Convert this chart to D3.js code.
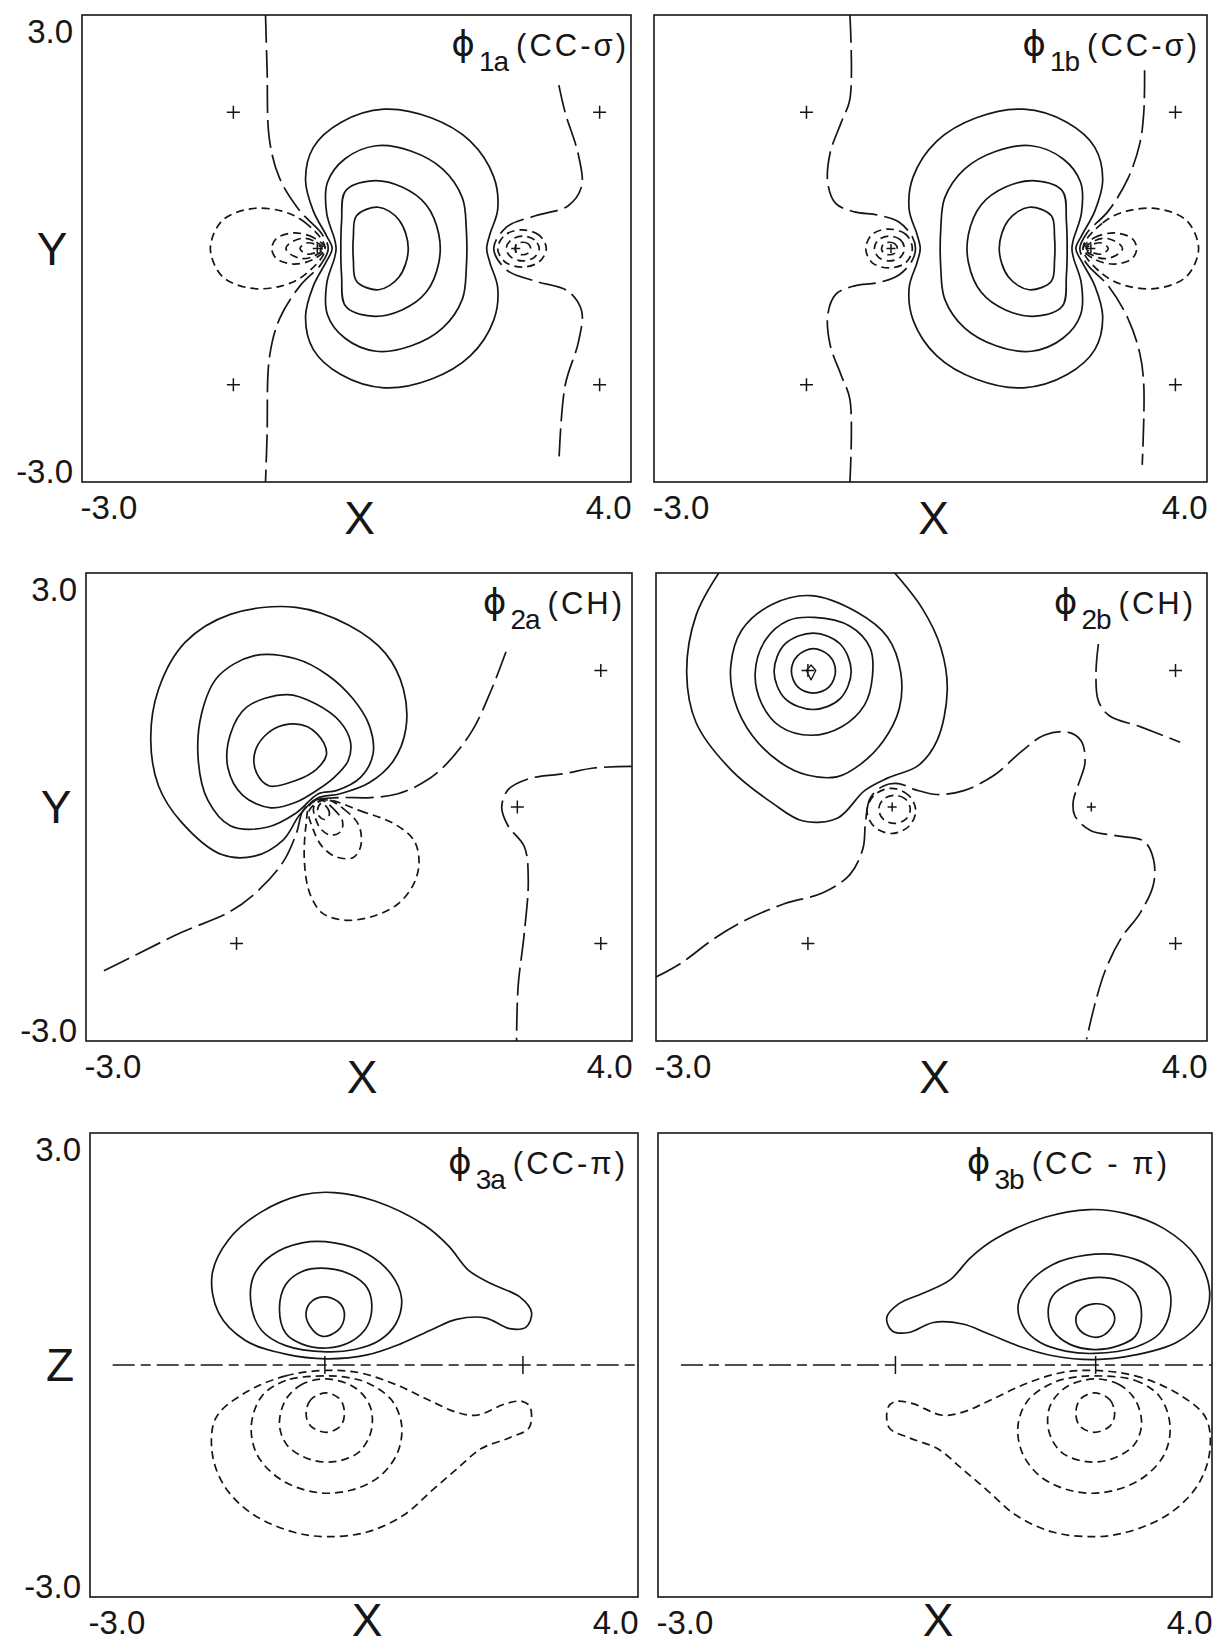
<!DOCTYPE html>
<html>
<head>
<meta charset="utf-8">
<script src="https://cdn.jsdelivr.net/npm/d3@7"></script>
<style>
body { margin: 0; background: #fff; }
svg { display: block; }
text { font-family: "Liberation Sans", Arial, sans-serif; fill: #161616; }
</style>
</head>
<body>
<svg id="chart" width="1223" height="1650"></svg>
<script>
// ---- data (bohr units) ----
var xDomain = [-3, 4];
var yDomain = [-3, 3];
var xTickValues = [-3, 4];
var yTickValues = [3, -3];

// nuclear positions of ethylene in the molecular plane
var atomX = {C1: 0, C2: 2.53, H1: -1.07, H2: -1.07, H3: 3.6, H4: 3.6};
var atomY = {C1: 0, C2: 0, H1: 1.75, H2: -1.75, H3: 1.75, H4: -1.75};

// phi 1a (CC-sigma)
var p1aSolid = [
	[[0.5,0.42],[0.78,0.53],[1.04,0.37],[1.16,0],[1.04,-0.37],[0.78,-0.53],[0.5,-0.42],[0.46,-0.15],[0.46,0.15]],
	[[0.36,0.74],[0.7,0.87],[1.08,0.79],[1.39,0.56],[1.55,0.18],[1.55,-0.18],[1.39,-0.56],[1.08,-0.79],[0.7,-0.87],[0.36,-0.74],[0.31,-0.35],[0.3,0],[0.31,0.35]],
	[[0.75,1.32],[1.2,1.25],[1.6,1.02],[1.85,0.65],[1.9,0.25],[1.9,-0.25],[1.85,-0.65],[1.6,-1.02],[1.2,-1.25],[0.75,-1.32],[0.35,-1.15],[0.13,-0.85],[0.12,-0.45],[0.22,-0.12],[0.24,0],[0.22,0.12],[0.12,0.45],[0.13,0.85],[0.35,1.15]],
	[[0.85,1.79],[1.45,1.68],[1.95,1.38],[2.25,0.92],[2.3,0.5],[2.2,0.18],[2.16,0],[2.2,-0.18],[2.3,-0.5],[2.25,-0.92],[1.95,-1.38],[1.45,-1.68],[0.85,-1.79],[0.3,-1.62],[-0.05,-1.3],[-0.15,-0.88],[-0.05,-0.48],[0.12,-0.16],[0.19,0],[0.12,0.16],[-0.05,0.48],[-0.15,0.88],[-0.05,1.3],[0.3,1.62]]
];
var p1aDashed = [
	[[0.1,0],[-0.15,0.33],[-0.45,0.48],[-0.85,0.51],[-1.2,0.37],[-1.35,0.1],[-1.35,-0.1],[-1.2,-0.37],[-0.85,-0.51],[-0.45,-0.48],[-0.15,-0.33]],
	[[0.1,0],[-0.05,0.14],[-0.3,0.2],[-0.52,0.13],[-0.58,0],[-0.52,-0.13],[-0.3,-0.2],[-0.05,-0.14]],
	[[0.08,0],[-0.05,0.1],[-0.2,0.13],[-0.36,0.06],[-0.4,0],[-0.36,-0.06],[-0.2,-0.13],[-0.05,-0.1]],
	[[0.06,0],[-0.04,0.06],[-0.14,0.07],[-0.22,0],[-0.14,-0.07],[-0.04,-0.06]],
	[[2.92,0],[2.83,0.17],[2.61,0.24],[2.39,0.17],[2.3,0],[2.39,-0.17],[2.61,-0.24],[2.83,-0.17]],
	[[2.83,0],[2.77,0.11],[2.62,0.16],[2.47,0.11],[2.41,0],[2.47,-0.11],[2.62,-0.16],[2.77,-0.11]],
	[[2.72,0],[2.69,0.06],[2.62,0.08],[2.55,0.06],[2.52,0],[2.55,-0.06],[2.62,-0.08],[2.69,-0.06]]
];
var p1aZero = [
	[[-0.66,3.0],[-0.64,2.3],[-0.61,1.4],[-0.48,0.9],[-0.22,0.48],[0.05,0.2],[0.14,0],[0.05,-0.2],[-0.22,-0.48],[-0.48,-0.9],[-0.61,-1.4],[-0.64,-2.4],[-0.66,-3.0]],
	[[3.08,2.1],[3.16,1.75],[3.33,1.2],[3.37,0.8],[3.2,0.55],[2.78,0.42],[2.42,0.28],[2.25,0],[2.42,-0.28],[2.78,-0.42],[3.2,-0.55],[3.37,-0.8],[3.33,-1.2],[3.16,-1.76],[3.08,-2.76]]
];
var p1aMarks = ['H1','H2','H3','H4','C1','C2'];

// phi 1b (CC-sigma)
var p1bSolid = [
	[[2.03,0.42],[1.75,0.53],[1.49,0.37],[1.37,0],[1.49,-0.37],[1.75,-0.53],[2.03,-0.42],[2.07,-0.15],[2.07,0.15]],
	[[2.17,0.74],[1.83,0.87],[1.45,0.79],[1.14,0.56],[0.98,0.18],[0.98,-0.18],[1.14,-0.56],[1.45,-0.79],[1.83,-0.87],[2.17,-0.74],[2.22,-0.35],[2.23,0],[2.22,0.35]],
	[[1.78,1.32],[1.33,1.25],[0.93,1.02],[0.68,0.65],[0.63,0.25],[0.63,-0.25],[0.68,-0.65],[0.93,-1.02],[1.33,-1.25],[1.78,-1.32],[2.18,-1.15],[2.4,-0.85],[2.41,-0.45],[2.31,-0.12],[2.29,0],[2.31,0.12],[2.41,0.45],[2.4,0.85],[2.18,1.15]],
	[[1.68,1.79],[1.08,1.68],[0.58,1.38],[0.28,0.92],[0.23,0.5],[0.33,0.18],[0.37,0],[0.33,-0.18],[0.23,-0.5],[0.28,-0.92],[0.58,-1.38],[1.08,-1.68],[1.68,-1.79],[2.23,-1.62],[2.58,-1.3],[2.68,-0.88],[2.58,-0.48],[2.41,-0.16],[2.34,0],[2.41,0.16],[2.58,0.48],[2.68,0.88],[2.58,1.3],[2.23,1.62]]
];
var p1bDashed = [
	[[2.43,0],[2.68,0.33],[2.98,0.48],[3.38,0.51],[3.73,0.37],[3.88,0.1],[3.88,-0.1],[3.73,-0.37],[3.38,-0.51],[2.98,-0.48],[2.68,-0.33]],
	[[2.43,0],[2.58,0.14],[2.83,0.2],[3.05,0.13],[3.11,0],[3.05,-0.13],[2.83,-0.2],[2.58,-0.14]],
	[[2.45,0],[2.58,0.1],[2.73,0.13],[2.89,0.06],[2.93,0],[2.89,-0.06],[2.73,-0.13],[2.58,-0.1]],
	[[2.47,0],[2.57,0.06],[2.67,0.07],[2.75,0],[2.67,-0.07],[2.57,-0.06]],
	[[0.27,0],[0.19,0.18],[-0.03,0.25],[-0.24,0.18],[-0.32,0],[-0.24,-0.18],[-0.03,-0.25],[0.19,-0.18]],
	[[0.17,0],[0.12,0.11],[-0.02,0.16],[-0.16,0.11],[-0.21,0],[-0.16,-0.11],[-0.02,-0.16],[0.12,-0.11]],
	[[0.08,0],[0.05,0.06],[-0.02,0.08],[-0.09,0.06],[-0.12,0],[-0.09,-0.06],[-0.02,-0.08],[0.05,-0.06]]
];
var p1bZero = [
	[[-0.52,3.0],[-0.52,1.92],[-0.63,1.62],[-0.77,1.23],[-0.8,0.84],[-0.7,0.58],[-0.46,0.47],[-0.17,0.43],[0.1,0.34],[0.27,0.15],[0.31,0],[0.27,-0.15],[0.1,-0.34],[-0.17,-0.44],[-0.46,-0.48],[-0.7,-0.59],[-0.8,-0.85],[-0.77,-1.24],[-0.63,-1.63],[-0.52,-1.94],[-0.52,-3.0]],
	[[3.21,2.29],[3.2,1.75],[3.15,1.35],[3.0,0.9],[2.75,0.48],[2.48,0.2],[2.39,0],[2.48,-0.2],[2.75,-0.48],[3.0,-0.9],[3.15,-1.35],[3.2,-1.76],[3.18,-2.78]]
];
var p1bMarks = ['H1','H2','H3','H4','C1','C2'];

// phi 2a (CH)
var p2aSolid = [
	[[-0.47,1.05],[-0.16,1.03],[0.05,0.82],[0.08,0.66],[-0.05,0.48],[-0.31,0.34],[-0.65,0.27],[-0.81,0.43],[-0.84,0.68],[-0.71,0.91]],
	[[-0.42,1.44],[-0.05,1.32],[0.26,1.09],[0.39,0.84],[0.36,0.59],[0.16,0.36],[0.0,0.24],[-0.31,0.06],[-0.63,-0.01],[-0.99,0.15],[-1.18,0.5],[-1.15,0.93],[-0.94,1.28]],
	[[-0.84,1.94],[-0.31,1.9],[0.1,1.69],[0.42,1.39],[0.63,1.05],[0.68,0.68],[0.52,0.38],[0.21,0.21],[-0.02,0.17],[-0.31,-0.08],[-0.68,-0.26],[-1.15,-0.24],[-1.44,0.09],[-1.56,0.59],[-1.52,1.19],[-1.31,1.67]],
	[[-0.31,2.56],[0.37,2.33],[0.84,1.97],[1.07,1.51],[1.1,1.0],[0.94,0.59],[0.63,0.31],[0.26,0.17],[-0.04,0.11],[-0.26,-0.1],[-0.47,-0.42],[-0.84,-0.63],[-1.26,-0.61],[-1.78,-0.19],[-2.07,0.27],[-2.17,0.87],[-2.07,1.51],[-1.73,2.11],[-1.15,2.47]]
];
var p2aDashed = [
	[[0.1,0.09],[0.52,-0.05],[0.94,-0.21],[1.2,-0.42],[1.27,-0.7],[1.2,-0.99],[0.99,-1.25],[0.65,-1.41],[0.31,-1.45],[0.03,-1.36],[-0.13,-1.11],[-0.2,-0.7],[-0.18,-0.24],[-0.12,0.04]],
	[[0.06,0.1],[0.31,-0.03],[0.5,-0.24],[0.52,-0.51],[0.42,-0.65],[0.21,-0.64],[0.03,-0.51],[-0.09,-0.28],[-0.14,-0.05]],
	[[0.03,0.08],[0.18,-0.03],[0.29,-0.19],[0.26,-0.32],[0.13,-0.36],[0.01,-0.28],[-0.06,-0.14],[-0.08,0.0]],
	[[0.02,0.05],[0.1,-0.02],[0.12,-0.1],[0.06,-0.16],[-0.01,-0.12],[-0.03,-0.03]]
];
var p2aZero = [
	[[-2.77,-2.1],[-2.35,-1.89],[-1.78,-1.61],[-1.15,-1.34],[-0.78,-1.06],[-0.47,-0.7],[-0.3,-0.33],[-0.22,-0.05],[-0.08,0.08],[0.25,0.12],[0.65,0.12],[1.0,0.17],[1.3,0.3],[1.57,0.5],[1.94,0.96],[2.2,1.51],[2.41,2.06]],
	[[4.0,0.52],[3.51,0.5],[3.14,0.43],[2.67,0.36],[2.41,0.22],[2.33,-0.01],[2.41,-0.24],[2.62,-0.51],[2.67,-0.93],[2.62,-1.61],[2.54,-2.3],[2.52,-3.0]]
];
var p2aMarks = ['H2','H3','H4','C2'];

// phi 2b (CH)
var p2bSolid = [
	[[-1.0,2.03],[-0.8,1.94],[-0.72,1.74],[-0.8,1.54],[-1.0,1.46],[-1.2,1.54],[-1.28,1.74],[-1.2,1.94]],
	[[-1.0,2.23],[-0.66,2.09],[-0.52,1.74],[-0.66,1.39],[-1.0,1.25],[-1.36,1.39],[-1.5,1.74],[-1.36,2.09]],
	[[-0.99,2.43],[-0.54,2.32],[-0.28,2.04],[-0.25,1.68],[-0.35,1.31],[-0.64,1.03],[-1.03,0.92],[-1.42,1.03],[-1.66,1.33],[-1.74,1.72],[-1.61,2.14],[-1.32,2.39]],
	[[-1.03,2.71],[-0.45,2.5],[-0.06,2.18],[0.11,1.72],[0.09,1.26],[-0.11,0.85],[-0.4,0.55],[-0.69,0.39],[-1.08,0.41],[-1.42,0.57],[-1.78,0.92],[-2.0,1.36],[-2.05,1.81],[-1.91,2.27],[-1.52,2.6]]
];
var p2bSolidOpen = [
	[[-2.17,3.05],[-2.49,2.46],[-2.61,1.72],[-2.49,1.08],[-2.05,0.48],[-1.52,0.05],[-1.13,-0.18],[-0.69,-0.14],[-0.35,0.21],[-0.06,0.37],[0.33,0.53],[0.57,0.85],[0.7,1.49],[0.62,2.04],[0.38,2.55],[-0.01,3.05]]
];
var p2bDashed = [
	[[0.3,-0.05],[0.21,0.15],[-0.01,0.24],[-0.23,0.15],[-0.32,-0.05],[-0.23,-0.25],[-0.01,-0.34],[0.21,-0.25]],
	[[0.23,-0.03],[0.17,0.1],[0.03,0.15],[-0.11,0.1],[-0.17,-0.03],[-0.11,-0.16],[0.03,-0.21],[0.17,-0.16]]
];
var p2bZero = [
	[[-3.0,-2.18],[-2.68,-2.0],[-2.25,-1.68],[-1.86,-1.45],[-1.37,-1.24],[-0.88,-1.1],[-0.54,-0.87],[-0.37,-0.53],[-0.34,-0.21],[-0.28,0.11],[-0.11,0.27],[0.08,0.3],[0.3,0.22],[0.57,0.16],[0.91,0.21],[1.3,0.41],[1.64,0.71],[1.93,0.92],[2.23,0.96],[2.4,0.85],[2.45,0.57],[2.37,0.3],[2.3,0.07],[2.32,-0.11],[2.52,-0.3],[2.86,-0.37],[3.2,-0.44],[3.32,-0.67],[3.32,-0.99],[3.15,-1.36],[2.91,-1.68],[2.71,-2.09],[2.57,-2.55],[2.47,-2.98]],
	[[2.62,2.09],[2.59,1.72],[2.62,1.36],[2.76,1.17],[3.15,1.03],[3.66,0.83]]
];
var p2bDiamond = [[-1.03,1.82],[-0.97,1.75],[-1.03,1.63],[-1.09,1.75]];
var p2bMarks = ['H1','H2','H3','H4','C1','C2'];

// phi 3a (CC-pi), plane perpendicular to the molecule
var p3aSolid = [
	[[-0.03,0.37],[-0.19,0.5],[-0.24,0.68],[-0.16,0.83],[0.02,0.88],[0.2,0.79],[0.25,0.63],[0.17,0.45]],
	[[0.02,0.22],[-0.29,0.27],[-0.5,0.41],[-0.58,0.72],[-0.5,1.04],[-0.29,1.21],[0.02,1.25],[0.33,1.17],[0.54,1.0],[0.6,0.77],[0.54,0.5],[0.33,0.3]],
	[[0.02,0.17],[-0.5,0.25],[-0.81,0.45],[-0.94,0.77],[-0.91,1.15],[-0.68,1.42],[-0.29,1.58],[0.12,1.58],[0.54,1.44],[0.85,1.17],[0.98,0.86],[0.91,0.54],[0.7,0.32],[0.38,0.2]],
	[[0.02,0.08],[-0.5,0.14],[-1.02,0.32],[-1.36,0.68],[-1.44,1.17],[-1.23,1.62],[-0.81,1.98],[-0.29,2.2],[0.12,2.23],[0.64,2.12],[1.27,1.81],[1.58,1.54],[1.84,1.22],[2.15,1.04],[2.49,0.88],[2.64,0.68],[2.57,0.49],[2.36,0.47],[2.05,0.61],[1.68,0.59],[1.37,0.46],[0.96,0.27],[0.54,0.13]]
];
var p3aDashed = [
	[[0.02,-0.36],[-0.18,-0.45],[-0.24,-0.63],[-0.18,-0.79],[0.02,-0.87],[0.2,-0.79],[0.25,-0.63],[0.2,-0.45]],
	[[0.02,-0.18],[-0.29,-0.25],[-0.5,-0.45],[-0.58,-0.77],[-0.48,-1.04],[-0.19,-1.22],[0.12,-1.25],[0.43,-1.13],[0.59,-0.86],[0.58,-0.54],[0.38,-0.29]],
	[[0.02,-0.14],[-0.5,-0.2],[-0.81,-0.41],[-0.94,-0.79],[-0.86,-1.17],[-0.55,-1.49],[-0.09,-1.65],[0.33,-1.62],[0.7,-1.44],[0.93,-1.13],[0.98,-0.77],[0.85,-0.45],[0.54,-0.23],[0.28,-0.16]],
	[[0.02,-0.07],[-0.5,-0.14],[-1.02,-0.36],[-1.39,-0.68],[-1.44,-1.13],[-1.28,-1.57],[-0.92,-1.93],[-0.4,-2.16],[0.02,-2.22],[0.54,-2.16],[1.01,-1.94],[1.37,-1.62],[1.68,-1.35],[2.0,-1.08],[2.36,-0.94],[2.61,-0.81],[2.62,-0.54],[2.52,-0.47],[2.31,-0.5],[1.94,-0.65],[1.68,-0.61],[1.32,-0.45],[0.9,-0.25],[0.44,-0.1]]
];
var p3aAxis = [[-2.71,0],[4.0,0]];
var p3aTicks = ['C1','C2'];

// phi 3b (CC-pi)
var p3bSolid = [
	[[2.56,0.36],[2.72,0.47],[2.77,0.62],[2.69,0.75],[2.51,0.79],[2.33,0.71],[2.28,0.57],[2.36,0.42]],
	[[2.51,0.2],[2.82,0.25],[3.03,0.37],[3.11,0.65],[3.03,0.94],[2.82,1.09],[2.51,1.13],[2.2,1.05],[1.99,0.9],[1.93,0.69],[1.99,0.45],[2.2,0.27]],
	[[2.51,0.15],[3.03,0.23],[3.34,0.41],[3.47,0.7],[3.44,1.04],[3.21,1.28],[2.82,1.42],[2.41,1.42],[1.99,1.3],[1.68,1.05],[1.55,0.77],[1.62,0.49],[1.83,0.29],[2.15,0.18]],
	[[2.51,0.07],[3.03,0.13],[3.55,0.29],[3.89,0.6],[3.97,0.95],[3.8,1.4],[3.4,1.76],[2.9,1.96],[2.45,2.01],[1.89,1.91],[1.26,1.63],[0.95,1.39],[0.69,1.1],[0.38,0.94],[0.04,0.79],[-0.11,0.61],[-0.04,0.44],[0.17,0.42],[0.48,0.55],[0.85,0.53],[1.16,0.41],[1.57,0.24],[1.99,0.12]]
];
var p3bDashed = [
	[[2.51,-0.36],[2.71,-0.45],[2.77,-0.63],[2.71,-0.79],[2.51,-0.87],[2.33,-0.79],[2.28,-0.63],[2.33,-0.45]],
	[[2.51,-0.18],[2.82,-0.25],[3.03,-0.45],[3.11,-0.77],[3.01,-1.04],[2.72,-1.22],[2.41,-1.25],[2.1,-1.13],[1.94,-0.86],[1.95,-0.54],[2.15,-0.29]],
	[[2.51,-0.14],[3.03,-0.2],[3.34,-0.41],[3.47,-0.79],[3.39,-1.17],[3.08,-1.49],[2.62,-1.65],[2.2,-1.62],[1.83,-1.44],[1.6,-1.13],[1.55,-0.77],[1.68,-0.45],[1.99,-0.23],[2.25,-0.16]],
	[[2.51,-0.07],[3.03,-0.14],[3.55,-0.36],[3.92,-0.68],[3.97,-1.13],[3.81,-1.57],[3.45,-1.93],[2.93,-2.16],[2.51,-2.22],[1.99,-2.16],[1.52,-1.94],[1.16,-1.62],[0.85,-1.35],[0.53,-1.08],[0.17,-0.94],[-0.08,-0.81],[-0.09,-0.54],[0.01,-0.47],[0.22,-0.5],[0.59,-0.65],[0.85,-0.61],[1.21,-0.45],[1.63,-0.25],[2.09,-0.1]]
];
var p3bAxis = [[-2.71,0],[4.0,0]];
var p3bTicks = ['C1','C2'];

// ---- layout ----
var panels = [
	{x0: 82, x1: 631, y0: 15, y1: 482, side: 'Y', sub: '1a', tail: '(CC-\u03c3)', tRight: 2,
		solid: p1aSolid, solidOpen: [], dashed: p1aDashed, zero: p1aZero, marks: p1aMarks, smallC: true},
	{x0: 654, x1: 1207, y0: 15, y1: 482, side: null, sub: '1b', tail: '(CC-\u03c3)', tRight: 7,
		solid: p1bSolid, solidOpen: [], dashed: p1bDashed, zero: p1bZero, marks: p1bMarks, smallC: true},
	{x0: 86, x1: 632, y0: 573, y1: 1041, side: 'Y', sub: '2a', tail: '(CH)', tRight: 7,
		solid: p2aSolid, solidOpen: [], dashed: p2aDashed, zero: p2aZero, marks: p2aMarks},
	{x0: 656, x1: 1207, y0: 573, y1: 1041, side: null, sub: '2b', tail: '(CH)', tRight: 11,
		solid: p2bSolid, solidOpen: p2bSolidOpen, dashed: p2bDashed, zero: p2bZero, marks: p2bMarks,
		diamond: p2bDiamond, smallC: true},
	{x0: 90, x1: 638, y0: 1133, y1: 1597, side: 'Z', sub: '3a', tail: '(CC-\u03c0)', tRight: 10,
		solid: p3aSolid, solidOpen: [], dashed: p3aDashed, zero: [], marks: [], axis: p3aAxis, ticks: p3aTicks},
	{x0: 658, x1: 1212, y0: 1133, y1: 1597, side: null, sub: '3b', tail: '(CC - \u03c0)', tRight: 42,
		solid: p3bSolid, solidOpen: [], dashed: p3bDashed, zero: [], marks: [], axis: p3bAxis, ticks: p3bTicks}
];

var ink = '#161616';
var svg = d3.select('#chart');

panels.forEach(function(p, i) {
	var x = d3.scaleLinear().domain(xDomain).range([p.x0, p.x1]);
	var y = d3.scaleLinear().domain(yDomain).range([p.y1, p.y0]);

	var closedLine = d3.line()
		.x(function(d) { return x(d[0]); })
		.y(function(d) { return y(d[1]); })
		.curve(d3.curveCatmullRomClosed.alpha(0.5));
	var openLine = d3.line()
		.x(function(d) { return x(d[0]); })
		.y(function(d) { return y(d[1]); })
		.curve(d3.curveCatmullRom.alpha(0.5));

	svg.append('clipPath').attr('id', 'clip' + i)
		.append('rect')
		.attr('x', p.x0).attr('y', p.y0)
		.attr('width', p.x1 - p.x0).attr('height', p.y1 - p.y0);

	var g = svg.append('g').attr('clip-path', 'url(#clip' + i + ')')
		.attr('fill', 'none').attr('stroke', ink).attr('stroke-width', 1.7)
		.attr('stroke-linejoin', 'round');

	//positive contours
	g.selectAll('.pos').data(p.solid).enter().append('path')
		.attr('d', closedLine);
	g.selectAll('.posOpen').data(p.solidOpen).enter().append('path')
		.attr('d', openLine);

	//negative contours
	g.selectAll('.neg').data(p.dashed).enter().append('path')
		.attr('d', closedLine)
		.attr('stroke-dasharray', '8,5');

	//nodal lines
	g.selectAll('.node').data(p.zero).enter().append('path')
		.attr('d', openLine)
		.attr('stroke-dasharray', '28,7');

	if (p.axis) {
		g.append('path').datum(p.axis)
			.attr('d', d3.line().x(function(d) { return x(d[0]); }).y(function(d) { return y(d[1]); }))
			.attr('stroke-width', 1.5)
			.attr('stroke-dasharray', '22,6,10,6');
		g.selectAll('.tick').data(p.ticks).enter().append('path')
			.attr('stroke-width', 1.5)
			.attr('d', function(a) {
				var cx = x(atomX[a]), cy = y(atomY[a]);
				return 'M' + cx + ',' + (cy - 9) + 'V' + (cy + 9);
			});
	}

	//nuclei
	g.selectAll('.mark').data(p.marks).enter().append('path')
		.attr('stroke-width', 1.5)
		.attr('d', function(a) {
			var s = (p.smallC && a.charAt(0) === 'C') ? 4.5 : 6.5;
			var cx = x(atomX[a]), cy = y(atomY[a]);
			return 'M' + (cx - s) + ',' + cy + 'H' + (cx + s) + 'M' + cx + ',' + (cy - s) + 'V' + (cy + s);
		});

	if (p.diamond) {
		g.append('path').datum(p.diamond)
			.attr('stroke-width', 1.3)
			.attr('d', d3.line().x(function(d) { return x(d[0]); }).y(function(d) { return y(d[1]); })
				.curve(d3.curveLinearClosed));
	}

	//frame
	svg.append('rect')
		.attr('x', p.x0).attr('y', p.y0)
		.attr('width', p.x1 - p.x0).attr('height', p.y1 - p.y0)
		.attr('fill', 'none').attr('stroke', ink).attr('stroke-width', 1.6);

	//axes: end labels only
	var xAxis = d3.axisBottom(x).tickValues(xTickValues).tickSize(0).tickPadding(14)
		.tickFormat(function(d) { return d.toFixed(1); });
	var ax = svg.append('g').attr('transform', 'translate(0,' + p.y1 + ')').call(xAxis);
	ax.select('.domain').remove();
	ax.selectAll('text')
		.attr('font-size', 33).attr('font-family', null).attr('fill', ink)
		.attr('text-anchor', function(d, j) { return j === 0 ? 'start' : 'end'; })
		.attr('x', function(d, j) { return j === 0 ? -2 : 0; });

	if (p.side) {
		var yAxis = d3.axisLeft(y).tickValues(yTickValues).tickSize(0).tickPadding(9)
			.tickFormat(function(d) { return d.toFixed(1); });
		var ay = svg.append('g').attr('transform', 'translate(' + p.x0 + ',0)').call(yAxis);
		ay.select('.domain').remove();
		ay.selectAll('text')
			.attr('font-size', 33).attr('font-family', null).attr('fill', ink)
			.attr('dy', function(d, j) { return j === 0 ? '0.82em' : '0em'; });

		svg.append('text')
			.attr('x', p.x0 - 30).attr('y', (p.y0 + p.y1) / 2)
			.attr('text-anchor', 'middle').attr('dominant-baseline', 'central')
			.attr('font-size', 46)
			.text(p.side);
	}

	svg.append('text')
		.attr('x', (p.x0 + p.x1) / 2 + 3).attr('y', Math.min(p.y1 + 52, 1636))
		.attr('text-anchor', 'middle')
		.attr('font-size', 46)
		.text('X');

	//orbital label
	var t = svg.append('text')
		.attr('x', p.x1 - p.tRight).attr('y', p.y0 + 41)
		.attr('text-anchor', 'end');
	t.append('tspan').attr('font-family', 'DejaVu Sans').attr('font-size', 36).text('\u03d5');
	t.append('tspan').attr('font-size', 28).attr('dy', 15).attr('dx', 4)
		.attr('letter-spacing', -1).text(p.sub);
	t.append('tspan').attr('font-size', 31).attr('dy', -15).attr('dx', 8)
		.attr('letter-spacing', 3).text(p.tail);
});
</script>
</body>
</html>
